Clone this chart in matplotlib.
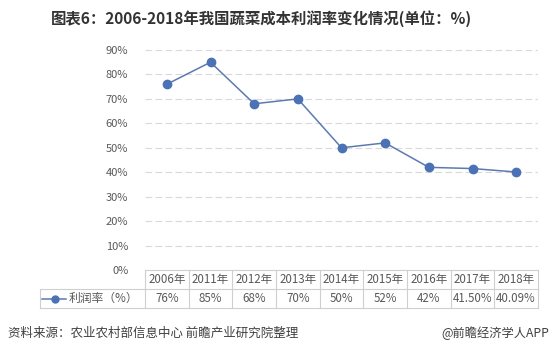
import matplotlib.pyplot as plt
import matplotlib.transforms as mtransforms

plt.rcParams['font.family'] = ['Noto Sans CJK SC', 'DejaVu Sans']

# 数据
years = ["2006年", "2011年", "2012年", "2013年", "2014年", "2015年", "2016年", "2017年", "2018年"]
rates = [76, 85, 68, 70, 50, 52, 42, 41.5, 40.09]
rate_labels = ["76%", "85%", "68%", "70%", "50%", "52%", "42%", "41.50%", "40.09%"]
yticks = [0, 10, 20, 30, 40, 50, 60, 70, 80, 90]

W, H = 551, 356
fig = plt.figure(figsize=(W / 100, H / 100), dpi=100)
fig.patch.set_facecolor("white")

# 坐标轴位置 (像素换算)
left, right, top, bottom = 145, 538, 50, 270
ax = fig.add_axes([left / W, 1 - bottom / H, (right - left) / W, (bottom - top) / H])

line_col = "#5b7bb0"
mark_col = "#4a72b5"
grid_col = "#d9d9d9"
txt_col = "#595959"

x = list(range(len(years)))
ax.plot(x, rates, color=line_col, lw=1.1, marker="o", ms=6,
        markerfacecolor=mark_col, markeredgecolor=mark_col, zorder=3)

ax.set_xlim(-0.5, len(years) - 0.5)
ax.set_ylim(0, 90)
ax.set_yticks(yticks)
ax.set_yticklabels([f"{v}%" for v in yticks], fontsize=8, color=txt_col)
ax.tick_params(axis="y", length=0, pad=12)
ax.set_xticks([])
for s in ax.spines.values():
    s.set_visible(False)
for v in yticks[1:]:
    ax.axhline(v, color=grid_col, lw=0.8, ls=(0, (6, 3)), zorder=1)

# 数据表
col_w = (right - left) / len(years)
row_h = 19 / (bottom - top)
trans = mtransforms.blended_transform_factory(ax.transData, ax.transAxes)
tab_col = "#cfcfcf"
lx = -0.5 - 105 / col_w
ax.plot([-0.5, 8.5], [0, 0], transform=trans, color=tab_col, lw=0.8, clip_on=False)
for yy in (-row_h, -2 * row_h):
    ax.plot([lx, 8.5], [yy, yy], transform=trans, color=tab_col, lw=0.8, clip_on=False)
for i in range(len(years) + 1):
    ax.plot([i - 0.5, i - 0.5], [0, -2 * row_h], transform=trans, color=tab_col,
            lw=0.8, clip_on=False)
ax.plot([lx, lx], [-row_h, -2 * row_h], transform=trans, color=tab_col, lw=0.8, clip_on=False)

for i, (yr, lab) in enumerate(zip(years, rate_labels)):
    ax.text(i, -0.5 * row_h, yr, transform=trans, ha="center", va="center",
            fontsize=8.3, color=txt_col)
    ax.text(i, -1.5 * row_h, lab, transform=trans, ha="center", va="center",
            fontsize=8.3, color=txt_col)

# 图例
lx0 = lx + 2 / col_w
ax.plot([lx0, lx0 + 24 / col_w], [-1.5 * row_h] * 2, transform=trans, color=line_col,
        lw=1.1, clip_on=False)
ax.plot([lx0 + 13 / col_w], [-1.5 * row_h], transform=trans, marker="o", ms=5,
        color=mark_col, clip_on=False)
ax.text(lx0 + 27 / col_w, -1.5 * row_h, "利润率（%）", transform=trans, ha="left",
        va="center", fontsize=8.5, color=txt_col)

# 标题与来源
fig.text(261 / W, 1 - 19 / H, "图表6：2006-2018年我国蔬菜成本利润率变化情况(单位：%)",
         ha="center", va="center", fontsize=11.1, fontweight="bold", color="#333333")
fig.text(8 / W, 1 - 333 / H, "资料来源：农业农村部信息中心 前瞻产业研究院整理",
         ha="left", va="center", fontsize=9, color="#404040")
fig.text(549 / W, 1 - 333 / H, "@前瞻经济学人APP",
         ha="right", va="center", fontsize=8.8, color="#404040")

fig.savefig("out.png", dpi=100)
